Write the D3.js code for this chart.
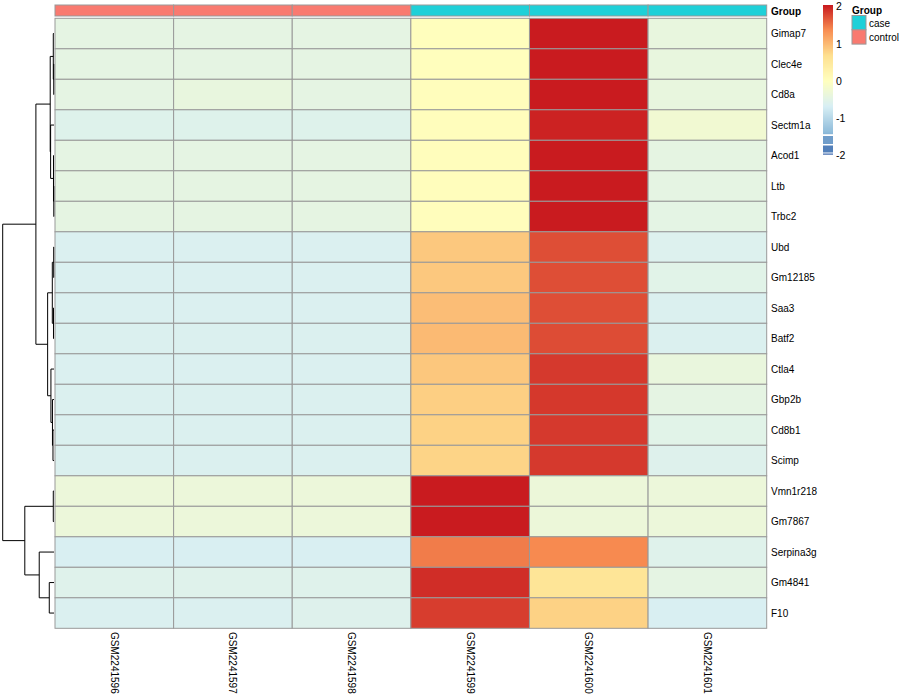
<!DOCTYPE html>
<html><head><meta charset="utf-8">
<script src="https://cdn.jsdelivr.net/npm/d3@7"></script>
<style>body{margin:0;background:#fff} text{font-family:"Liberation Sans",Arial,Helvetica,sans-serif}</style>
</head><body><svg id="c" width="900" height="700"></svg>
<script>
const genes = ["Gimap7","Clec4e","Cd8a","Sectm1a","Acod1","Ltb","Trbc2","Ubd","Gm12185","Saa3","Batf2","Ctla4","Gbp2b","Cd8b1","Scimp","Vmn1r218","Gm7867","Serpina3g","Gm4841","F10"];
const samples = ["GSM2241596","GSM2241597","GSM2241598","GSM2241599","GSM2241600","GSM2241601"];
const sampleGroups = ["control","control","control","case","case","case"];
const groupNames = ["case","control"];
const groupColors = ["#1FD0D8","#F97A70"];
// row-scaled expression (z-scores), one array per gene in gene order
const values = [
  [-0.46,-0.46,-0.46,0.03,2.04,-0.40],
  [-0.46,-0.46,-0.46,0.03,2.04,-0.40],
  [-0.46,-0.40,-0.46,0.04,2.04,-0.40],
  [-0.57,-0.57,-0.57,0.05,2.00,-0.25],
  [-0.46,-0.46,-0.46,0.04,2.04,-0.45],
  [-0.45,-0.45,-0.45,0.04,2.04,-0.46],
  [-0.45,-0.45,-0.45,0.04,2.04,-0.47],
  [-0.63,-0.63,-0.63,0.88,1.74,-0.60],
  [-0.63,-0.63,-0.63,0.88,1.74,-0.52],
  [-0.63,-0.63,-0.63,0.97,1.74,-0.62],
  [-0.62,-0.62,-0.62,1.00,1.75,-0.62],
  [-0.63,-0.63,-0.63,0.89,1.86,-0.38],
  [-0.62,-0.62,-0.62,0.82,1.87,-0.46],
  [-0.62,-0.62,-0.62,0.80,1.86,-0.52],
  [-0.62,-0.62,-0.62,0.78,1.86,-0.58],
  [-0.34,-0.34,-0.34,2.04,-0.33,-0.34],
  [-0.34,-0.34,-0.34,2.04,-0.33,-0.34],
  [-0.66,-0.66,-0.66,1.47,1.39,-0.56],
  [-0.56,-0.56,-0.56,1.93,0.58,-0.46],
  [-0.63,-0.63,-0.58,1.84,0.80,-0.66]
];
// hclust-style merges (negative = leaf, positive = earlier merge) and heights
const merges = [[-2,-3],[-1,1],[-6,-7],[-5,3],[-4,4],[2,5],[-8,-9],[-10,-11],[7,8],[-14,-15],[-13,10],[-12,11],[9,12],[6,13],[-16,-17],[-19,-20],[-18,16],[15,17],[14,18]];
const heights = [0.5,1.4,0.4,1.0,6.6,7.4,0.6,1.0,3.3,2.0,3.0,6.0,12.4,35.3,1.4,9.2,28.8,56.9,100];
const legendTicks = [2,1,0,-1,-2];
const colorStops = [-2.05,-1.37,-0.68,0,0.68,1.37,2.05];
const colorRange = ["#3A66AC","#90BDDB","#D8EFF4","#FFFFBF","#FEE090","#F88D52","#C8191E"];

const svg = d3.select("#c");
const color = d3.scaleLinear().domain(colorStops).range(colorRange).interpolate(d3.interpolateRgb).clamp(true);
const x = d3.scaleBand().domain(samples).range([55, 766.7]);
const y = d3.scaleBand().domain(genes).range([18.3, 628.3]);

// annotation bar
svg.append("g").selectAll("rect").data(samples).join("rect")
  .attr("x", d => x(d)).attr("y", 5).attr("width", x.bandwidth()).attr("height", 11)
  .attr("fill", (d,i) => groupColors[groupNames.indexOf(sampleGroups[i])])
  .attr("stroke", "#999").attr("stroke-width", 1);
svg.append("text").attr("x", 771).attr("y", 11).attr("dy","0.35em")
  .attr("font-size", 10).attr("font-weight","bold").text("Group");

// cells
const cells = [];
genes.forEach((g,i) => samples.forEach((s,j) => cells.push({g, s, v: values[i][j]})));
svg.append("g").selectAll("rect").data(cells).join("rect")
  .attr("x", d => x(d.s)).attr("y", d => y(d.g))
  .attr("width", x.bandwidth()).attr("height", y.bandwidth())
  .attr("fill", d => color(d.v)).attr("stroke", "#999").attr("stroke-width", 1);

// row labels
svg.append("g").selectAll("text").data(genes).join("text")
  .attr("x", 771).attr("y", d => y(d) + y.bandwidth()/2).attr("dy","0.38em")
  .attr("font-size", 10).attr("fill","#000").text(d => d);

// column labels
svg.append("g").selectAll("text").data(samples).join("text")
  .attr("transform", d => `translate(${x(d) + x.bandwidth()/2 - 3.5},632) rotate(90)`)
  .attr("font-size", 10).attr("fill","#000").text(d => d);

// dendrogram
const hx = d3.scaleLinear().domain([0, d3.max(heights)]).range([54, 2.7]);
const nodes = [];
function pos(k){ return k < 0 ? {x: hx(0), y: y(genes[-k-1]) + y.bandwidth()/2} : nodes[k-1]; }
const dg = svg.append("g").attr("stroke","#000").attr("stroke-width",1).attr("fill","none");
merges.forEach((m,i) => {
  const a = pos(m[0]), b = pos(m[1]);
  const nx = hx(heights[i]), ny = (a.y + b.y)/2;
  nodes.push({x: nx, y: ny});
  dg.append("path").attr("d", `M${a.x},${a.y}H${nx}V${b.y}H${b.x}`);
});

// colour legend
const ly = d3.scaleLinear().domain([0, 1]).range([81, 81 - 37.1]);
const lg = svg.append("g");
const steps = d3.range(5, 134, 1);
lg.selectAll("rect.s").data(steps).join("rect").attr("class","s")
  .attr("x", 823).attr("y", d => d).attr("width", 10).attr("height", 1.2)
  .attr("fill", d => color(ly.invert(d + 0.5)));
lg.append("rect").attr("x",823).attr("y",136).attr("width",10).attr("height",8).attr("fill", color(-1.62));
lg.append("rect").attr("x",823).attr("y",145.5).attr("width",10).attr("height",7).attr("fill", color(-1.85));
lg.append("rect").attr("x",823).attr("y",153.5).attr("width",10).attr("height",1.2).attr("fill", color(-2.05));
lg.selectAll("text").data(legendTicks).join("text")
  .attr("x", 836).attr("y", d => ly(d)).attr("dy","0.35em")
  .attr("font-size", 10.5).text(d => d < 0 ? "-" + Math.abs(d) : d);

// group legend
const gl = svg.append("g");
gl.append("text").attr("x", 852).attr("y", 10).attr("dy","0.35em")
  .attr("font-size", 10).attr("font-weight","bold").text("Group");
gl.selectAll("rect").data(groupNames).join("rect")
  .attr("x", 852).attr("y", (d,i) => 15.5 + i*14.3).attr("width", 14).attr("height", 14.3)
  .attr("fill", (d,i) => groupColors[i]).attr("stroke","#999").attr("stroke-width",1);
gl.selectAll("text.g").data(groupNames).join("text").attr("class","g")
  .attr("x", 869).attr("y", (d,i) => 23 + i*14.3).attr("dy","0.35em")
  .attr("font-size", 10).text(d => d);
</script></body></html>
